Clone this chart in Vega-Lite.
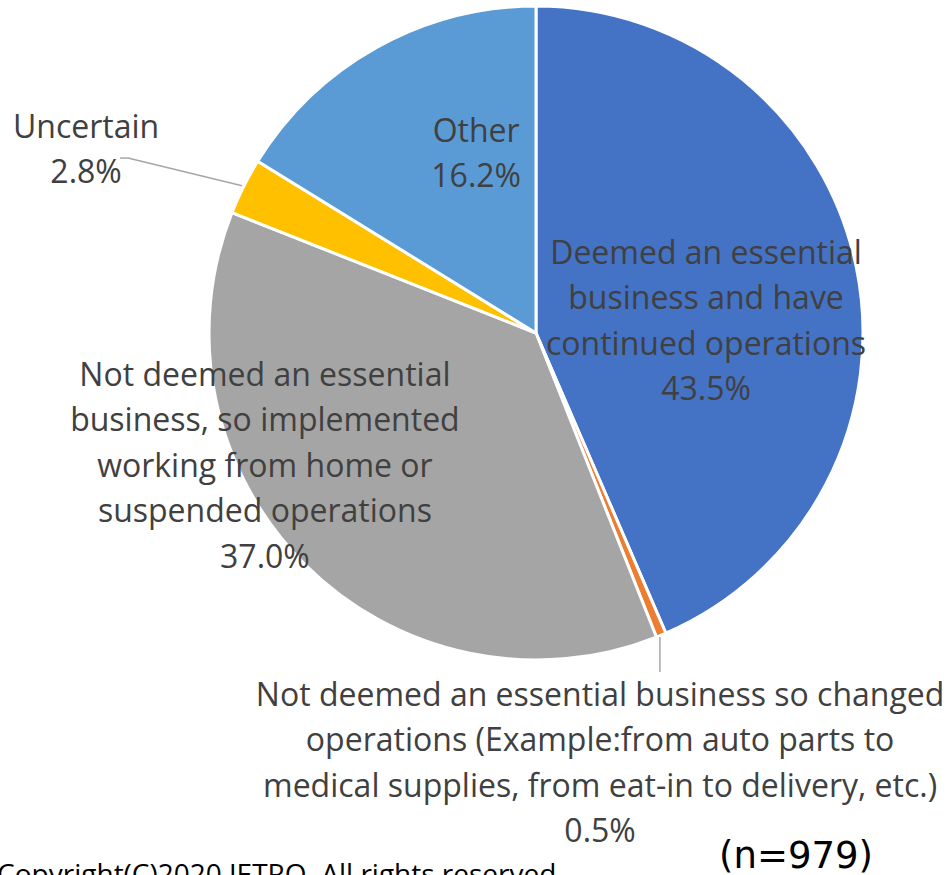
{
  "$schema": "https://vega.github.io/schema/vega-lite/v6.json",
  "width": 654,
  "height": 654,
  "autosize": {"type": "none"},
  "padding": {"left": 209, "top": 6, "right": 86, "bottom": 215},
  "background": "white",
  "config": {"view": {"stroke": null}},
  "datasets": {
    "slices": [
      {"k": 1, "category": "Deemed an essential business and have continued operations", "pct": 43.5},
      {"k": 2, "category": "Not deemed an essential business so changed operations", "pct": 0.5},
      {"k": 3, "category": "Not deemed an essential business, so implemented working from home or suspended operations", "pct": 37.0},
      {"k": 4, "category": "Uncertain", "pct": 2.8},
      {"k": 5, "category": "Other", "pct": 16.2}
    ],
    "labels": [
      {"lines": ["Deemed an essential", "business and have", "continued operations", "43.5%"], "lx": 0.52, "ly": 0.243},
      {"lines": ["Other", "16.2%"], "lx": -0.183, "ly": 0.616},
      {"lines": ["Not deemed an essential", "business, so implemented", "working from home or", "suspended operations", "37.0%"], "lx": -0.829, "ly": -0.13},
      {"lines": ["Uncertain", "2.8%"], "lx": -1.376, "ly": 0.628},
      {"lines": ["Not deemed an essential business so changed", "operations (Example:from auto parts to", "medical supplies, from eat-in to delivery, etc.)", "0.5%"], "lx": 0.196, "ly": -1.109}
    ],
    "leaders": [
      {"x1": -1.272, "y1": 0.535, "x2": -1.248, "y2": 0.535},
      {"x1": -1.248, "y1": 0.535, "x2": -0.899, "y2": 0.45},
      {"x1": 0.379, "y1": -0.93, "x2": 0.379, "y2": -1.037}
    ],
    "copyright": [{"t": "Copyright(C)2020 JETRO. All rights reserved.", "nx": -1.648, "ny": -1.685}],
    "nnote": [{"t": "(n=979)", "nx": 0.795, "ny": -1.636}]
  },
  "layer": [
    {
      "data": {"name": "slices"},
      "mark": {"type": "arc", "radius": 327, "stroke": "white", "strokeWidth": 3},
      "encoding": {
        "theta": {"field": "pct", "type": "quantitative", "stack": true},
        "order": {"field": "k", "type": "quantitative", "sort": "ascending"},
        "color": {
          "field": "category", "type": "nominal", "legend": null,
          "scale": {
            "domain": [
              "Deemed an essential business and have continued operations",
              "Not deemed an essential business so changed operations",
              "Not deemed an essential business, so implemented working from home or suspended operations",
              "Uncertain",
              "Other"
            ],
            "range": ["#4472C4", "#ED7D31", "#A5A5A5", "#FFC000", "#5B9BD5"]
          }
        }
      }
    },
    {
      "data": {"name": "leaders"},
      "mark": {"type": "rule", "color": "#A6A6A6", "strokeWidth": 1.5},
      "encoding": {
        "x": {"field": "x1", "type": "quantitative", "scale": {"domain": [-1, 1], "nice": false, "zero": false}, "axis": null},
        "y": {"field": "y1", "type": "quantitative", "scale": {"domain": [-1, 1], "nice": false, "zero": false}, "axis": null},
        "x2": {"field": "x2"},
        "y2": {"field": "y2"}
      }
    },
    {
      "data": {"name": "labels"},
      "mark": {"type": "text", "font": "Open Sans", "fontSize": 32, "color": "#404040", "lineHeight": 45.5, "align": "center", "baseline": "middle"},
      "encoding": {
        "x": {"field": "lx", "type": "quantitative", "scale": {"domain": [-1, 1], "nice": false, "zero": false}, "axis": null},
        "y": {"field": "ly", "type": "quantitative", "scale": {"domain": [-1, 1], "nice": false, "zero": false}, "axis": null},
        "text": {"field": "lines"}
      }
    },
    {
      "data": {"name": "copyright"},
      "mark": {"type": "text", "font": "Open Sans", "fontSize": 28, "color": "#000000", "align": "left", "baseline": "alphabetic"},
      "encoding": {
        "x": {"field": "nx", "type": "quantitative", "scale": {"domain": [-1, 1], "nice": false, "zero": false}, "axis": null},
        "y": {"field": "ny", "type": "quantitative", "scale": {"domain": [-1, 1], "nice": false, "zero": false}, "axis": null},
        "text": {"field": "t"}
      }
    },
    {
      "data": {"name": "nnote"},
      "mark": {"type": "text", "font": "DejaVu Sans", "fontSize": 37, "color": "#000000", "align": "center", "baseline": "alphabetic"},
      "encoding": {
        "x": {"field": "nx", "type": "quantitative", "scale": {"domain": [-1, 1], "nice": false, "zero": false}, "axis": null},
        "y": {"field": "ny", "type": "quantitative", "scale": {"domain": [-1, 1], "nice": false, "zero": false}, "axis": null},
        "text": {"field": "t"}
      }
    }
  ]
}
